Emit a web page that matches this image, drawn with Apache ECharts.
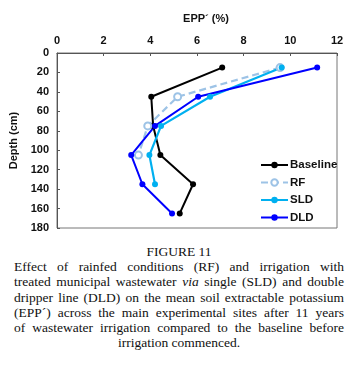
<!DOCTYPE html>
<html>
<head>
<meta charset="utf-8">
<script src="https://cdn.jsdelivr.net/npm/echarts@6/dist/echarts.min.js"></script>
<style>
    body { margin: 0; background: #fff; }
    #main { position: absolute; left: 0; top: 0; width: 355px; height: 240px; }
    #caption { position: absolute; left: 14px; top: 244px; width: 330px;
        font-family: "Liberation Serif", "Times New Roman", serif; font-size: 13.5px; line-height: 15.2px; color: #111; }
    #caption div { text-align: justify; text-align-last: justify; white-space: nowrap; }
    #caption .c { text-align: center; text-align-last: center; }
</style>
</head>
<body>
<div id="main"></div>
<div id="caption">
    <div class="c">FIGURE 11</div>
    <div>Effect of rainfed conditions (RF) and irrigation with</div>
    <div>treated municipal wastewater <i>via</i> single (SLD) and double</div>
    <div>dripper line (DLD) on the mean soil extractable potassium</div>
    <div>(EPP´) across the main experimental sites after 11 years</div>
    <div>of wastewater irrigation compared to the baseline before</div>
    <div class="c">irrigation commenced.</div>
</div>
<script>
// 深度 (cm)
var depth = [15, 45, 75, 105, 135, 165];
// EPP' (%) 各处理
var baseline = [7.08, 4.04, 4.12, 4.43, 5.83, 5.26];
var rf = [9.56, 5.17, 3.89, 3.49];
var sld = [9.63, 6.56, 4.46, 3.96, 4.2];
var dld = [11.15, 6.05, 4.2, 3.18, 3.66, 4.93];

function pairs(vals){
    var out = [];
    for(var i=0;i<vals.length;i++){
        out.push([vals[i], depth[i]]);
    }
    return out;
}

var myChart = echarts.init(document.getElementById('main'));
var font = '"Liberation Sans", Arial, sans-serif';
option = {
    animation: false,
    textStyle: {fontFamily: font},
    grid: {
        left: 55, right: 18, top: 53, bottom: 12,
        show: true, borderColor: '#777', borderWidth: 1
    },
    legend: {
        orient: 'vertical',
        left: 260, top: 159, padding: 0,
        itemWidth: 27, itemHeight: 8, itemGap: 5.5,
        textStyle: {fontFamily: font, fontSize: 11.5, fontWeight: 'bold', color: '#111', padding: [0,0,0,-3]},
        data: ['Baseline', 'RF', 'SLD', 'DLD']
    },
    xAxis: {
        type: 'value', position: 'top',
        min: 0, max: 12, interval: 2,
        name: 'EPP´ (%)', nameLocation: 'middle', nameGap: 29,
        nameTextStyle: {fontFamily: font, fontSize: 11, fontWeight: 'bold', color: '#111', padding: [0,0,0,18]},
        axisLine: {lineStyle: {color: '#555'}},
        axisTick: {inside: true, length: 3, lineStyle: {color: '#555'}},
        axisLabel: {fontFamily: font, fontSize: 11, fontWeight: 'bold', color: '#111', margin: 7},
        splitLine: {show: false}
    },
    yAxis: {
        type: 'value', inverse: true,
        min: 0, max: 180, interval: 20,
        name: 'Depth (cm)', nameLocation: 'middle', nameGap: 26,
        nameTextStyle: {fontFamily: font, fontSize: 11, fontWeight: 'bold', color: '#111', padding: [0,0,12,0]},
        axisLine: {lineStyle: {color: '#555'}},
        axisTick: {inside: true, length: 3, lineStyle: {color: '#555'}},
        axisLabel: {fontFamily: font, fontSize: 11, fontWeight: 'bold', color: '#111', margin: 8},
        splitLine: {show: false}
    },
    series: [
        {
            name: 'Baseline', type: 'line', data: pairs(baseline),
            symbol: 'circle', symbolSize: 6,
            lineStyle: {width: 2, color: '#000'}, itemStyle: {color: '#000'}
        },
        {
            name: 'RF', type: 'line', data: pairs(rf),
            symbol: 'emptyCircle', symbolSize: 7,
            lineStyle: {width: 2.2, color: '#9dc3e6', type: [7, 4]},
            itemStyle: {color: '#9dc3e6', borderWidth: 1.5}
        },
        {
            name: 'SLD', type: 'line', data: pairs(sld),
            symbol: 'circle', symbolSize: 6,
            lineStyle: {width: 2.2, color: '#00b0f0'}, itemStyle: {color: '#00b0f0'}
        },
        {
            name: 'DLD', type: 'line', data: pairs(dld),
            symbol: 'circle', symbolSize: 6,
            lineStyle: {width: 2, color: '#0000ff'}, itemStyle: {color: '#0000ff'}
        }
    ]
};
myChart.setOption(option, true);
</script>
</body>
</html>
